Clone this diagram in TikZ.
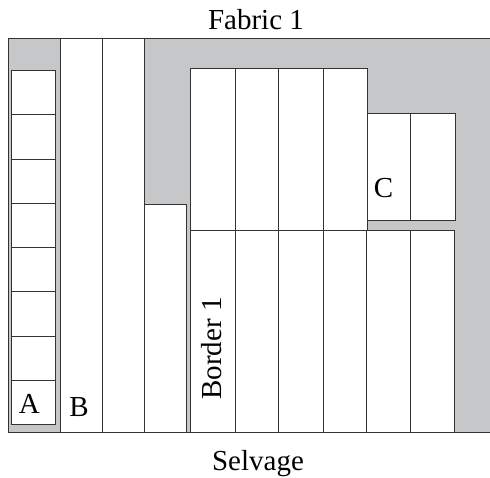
\documentclass[tikz,border=0pt]{standalone}
\usepackage{fontspec}
\setmainfont{Liberation Serif}
\definecolor{fabgray}{HTML}{C6C7C9}
\definecolor{edge}{HTML}{333333}
\begin{document}
\begin{tikzpicture}[x=1pt,y=-1pt,
  piece/.style={draw=edge, line width=0.9pt, fill=white},
  lbl/.style={font=\fontsize{29}{32}\selectfont, text=black, inner sep=0pt, anchor=base}]
\useasboundingbox (0,0) rectangle (490,478);
% fabric
\fill[fabgray] (8.3,38.7) rectangle (490,432.7);
\draw[edge, line width=1.1pt] (490,38.7) -- (8.3,38.7) -- (8.3,432.7) -- (490,432.7);
% A column
\draw[piece] (11,70.7) rectangle (55.3,424.7);
\foreach \k in {1,...,7} {
  \draw[edge, line width=0.9pt] (11,{70.7+44.25*\k}) -- (55.3,{70.7+44.25*\k});
}
% long strips
\draw[piece] (60.7,38.7) rectangle (102.7,432.7);
\draw[piece] (102.7,38.7) rectangle (144.8,432.7);
\draw[piece] (144.5,204) rectangle (186,432.7);
% top block
\foreach \a/\b in {190.7/235.7, 235.7/278.7, 278.7/323, 323/367} {
  \draw[piece] (\a,68) rectangle (\b,230);
}
% C block
\draw[piece] (367.7,113.7) rectangle (410.7,220.7);
\draw[piece] (410.7,113.7) rectangle (455,220.7);
% bottom block
\foreach \a/\b in {190.7/235.7, 235.7/278.7, 278.7/323, 323/366, 366/410, 410/454.5} {
  \draw[piece] (\a,230) rectangle (\b,432.7);
}
% labels
\node[lbl] (fabric) at (256,30) {Fabric 1};
\node[lbl] (selvage) at (258,470) {Selvage};
\node[lbl] (la) at (29.3,413) {A};
\node[lbl] (lb) at (79,416) {B};
\node[lbl] (lc) at (383.5,197.3) {C};
\node[lbl, rotate=90] (border) at (221,348.5) {Border 1};
\end{tikzpicture}
\end{document}
